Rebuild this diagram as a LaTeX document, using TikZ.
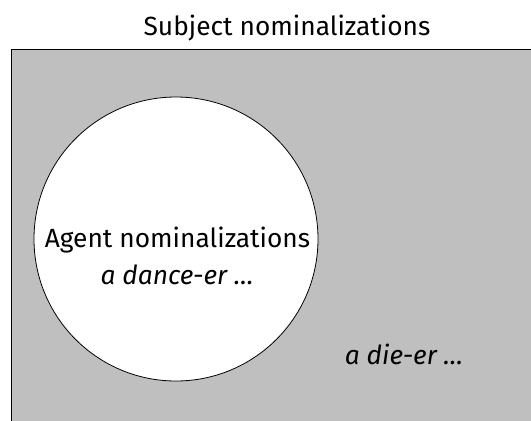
\documentclass[tikz,border=0pt]{standalone}
\usepackage{fontspec}
\setmainfont{Fira Sans}
\begin{document}
\begin{tikzpicture}[x=1pt,y=-1pt,
  lbl/.style={font=\fontsize{26.3}{30}\selectfont, inner sep=0pt},
  ital/.style={lbl, font=\fontsize{26.3}{30}\selectfont\itshape},
  outline/.style={draw=black, line width=0.8pt}]
\useasboundingbox (0,0) rectangle (531,421);
% outer set: subject nominalizations
\fill[gray!50] (11.5,49.5) rectangle (531,421);
\draw[outline] (11.5,421) -- (11.5,49.5) -- (531,49.5);
\node[lbl] (title) at (287,28) {Subject nominalizations};
% inner set: agent nominalizations
\node[outline, fill=white, circle, minimum size=284pt, inner sep=0pt] (agent) at (176,239) {};
\node[lbl] (agentlbl) at (177.5,240.5) {Agent nominalizations};
\node[ital] (dancer) at (177,275) {a dance-er …};
\node[ital] (dier) at (404,354) {a die-er …};
\end{tikzpicture}
\end{document}
